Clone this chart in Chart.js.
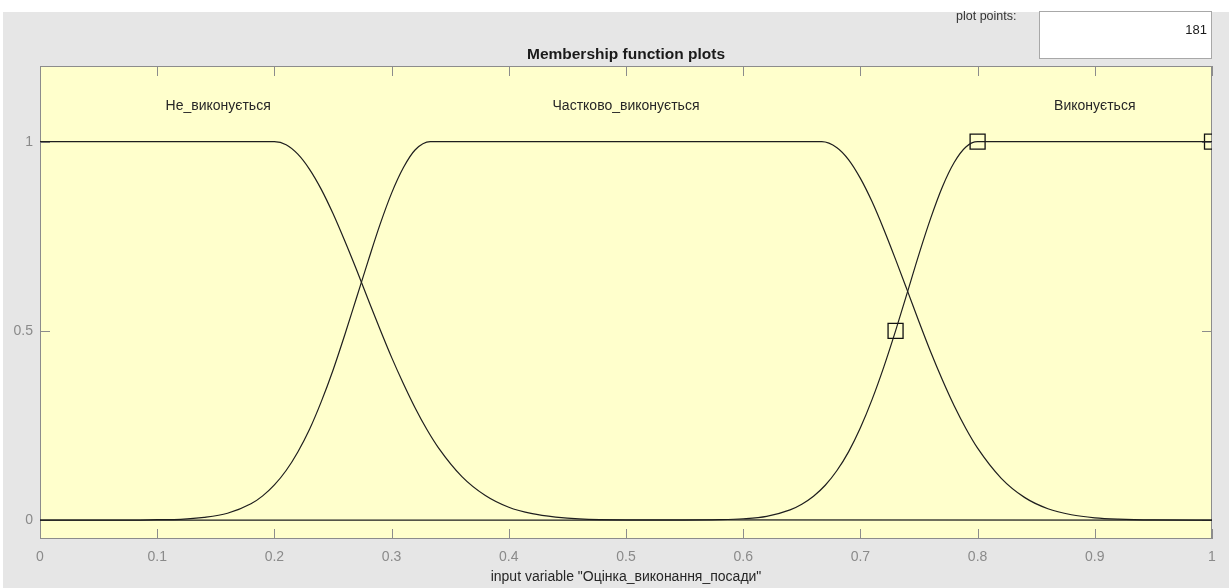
<!DOCTYPE html>
<html>
<head>
<meta charset="utf-8">
<script src="https://cdn.jsdelivr.net/npm/chart.js@4.4.1/dist/chart.umd.min.js"></script>
<style>
  html, body { margin: 0; padding: 0; background: #fff; }
  #wrap { position: relative; width: 1229px; height: 588px; }
</style>
</head>
<body>
<div id="wrap"><canvas id="mfChart" width="1229" height="588"></canvas></div>
<script>
// Осі
const xTicks = [0, 0.1, 0.2, 0.3, 0.4, 0.5, 0.6, 0.7, 0.8, 0.9, 1];
const yTicks = [0, 0.5, 1];

// Назви функцій належності
const mfNames = ['Не_виконується', 'Частково_виконується', 'Виконується'];
const mfLabelX = [0.152, 0.5, 0.9];

// Не_виконується
const neX = [0, 0.2, 0.21, 0.22, 0.23, 0.24, 0.25, 0.26, 0.27, 0.28, 0.29, 0.30, 0.31, 0.32, 0.33, 0.34, 0.36, 0.38, 0.40, 0.42, 0.44, 0.46, 0.50, 1];
const neY = [1, 1, 0.992, 0.967, 0.927, 0.874, 0.810, 0.738, 0.662, 0.583, 0.505, 0.430, 0.361, 0.297, 0.240, 0.191, 0.115, 0.065, 0.034, 0.017, 0.008, 0.003, 0.0006, 0];

// Частково_виконується
const chX = [0, 0.08, 0.10, 0.12, 0.14, 0.16, 0.18, 0.19, 0.20, 0.21, 0.22, 0.23, 0.24, 0.25, 0.26, 0.27, 0.28, 0.29, 0.30, 0.31, 0.32, 0.333,
             0.667, 0.68, 0.69, 0.70, 0.71, 0.72, 0.73, 0.74, 0.75, 0.76, 0.77, 0.78, 0.79, 0.80, 0.82, 0.84, 0.86, 0.88, 0.90, 0.92, 0.95, 1];
const chY = [0, 0, 0.001, 0.002, 0.007, 0.018, 0.043, 0.064, 0.093, 0.131, 0.180, 0.240, 0.313, 0.396, 0.489, 0.587, 0.685, 0.780, 0.864, 0.931, 0.978, 1,
             1, 0.984, 0.952, 0.903, 0.841, 0.768, 0.689, 0.607, 0.524, 0.444, 0.370, 0.302, 0.242, 0.190, 0.111, 0.060, 0.030, 0.014, 0.006, 0.0025, 0.0005, 0];

// Виконується
const vyX = [0, 0.55, 0.58, 0.60, 0.62, 0.64, 0.65, 0.66, 0.67, 0.68, 0.69, 0.70, 0.71, 0.72, 0.73, 0.74, 0.75, 0.76, 0.77, 0.78, 0.79, 0.80, 1];
const vyY = [0, 0, 0.001, 0.0035, 0.010, 0.027, 0.042, 0.063, 0.092, 0.131, 0.181, 0.244, 0.319, 0.405, 0.5, 0.601, 0.703, 0.798, 0.881, 0.945, 0.986, 1, 1];

// Маркери параметрів вибраної функції
const mkX = [0.73, 0.8, 1];
const mkY = [0.5, 1, 1];

const plotPoints = '181';

const FONT = "'Liberation Sans', Arial, sans-serif";
const LINE_COLOR = '#1e1e1e';

function toPoints(xs, ys) {
    return xs.map((x, i) => ({ x: x, y: ys[i] }));
}

function curve(xs, ys) {
    return {
        data: toPoints(xs, ys),
        borderColor: LINE_COLOR,
        borderWidth: 1.2,
        pointRadius: 0,
        fill: false,
        showLine: true,
        cubicInterpolationMode: 'monotone'
    };
}

// Фон, рамка, засічки та підписи у стилі MATLAB
const matlabFrame = {
    id: 'matlabFrame',
    beforeDraw(chart) {
        const { ctx, chartArea: a } = chart;
        ctx.save();
        ctx.fillStyle = '#ffffff';
        ctx.fillRect(0, 0, chart.width, chart.height);
        ctx.fillStyle = '#e6e6e6';
        ctx.fillRect(3, 12, chart.width - 3, chart.height - 12);
        ctx.fillStyle = '#ffffcc';
        ctx.fillRect(a.left, a.top, a.right - a.left, a.bottom - a.top);
        ctx.restore();
    },
    beforeDatasetsDraw(chart) {
        const { ctx, chartArea: a, scales } = chart;
        const tick = 10;
        ctx.save();

        // рамка
        ctx.strokeStyle = '#8c8c8c';
        ctx.lineWidth = 1;
        ctx.strokeRect(a.left + 0.5, a.top + 0.5, a.right - a.left - 1, a.bottom - a.top - 1);

        // засічки всередину
        ctx.beginPath();
        xTicks.forEach(v => {
            const px = Math.round(scales.x.getPixelForValue(v)) + 0.5;
            ctx.moveTo(px, a.top);
            ctx.lineTo(px, a.top + tick);
            ctx.moveTo(px, a.bottom);
            ctx.lineTo(px, a.bottom - tick);
        });
        yTicks.forEach(v => {
            const py = Math.round(scales.y.getPixelForValue(v)) + 0.5;
            ctx.moveTo(a.left, py);
            ctx.lineTo(a.left + tick, py);
            ctx.moveTo(a.right, py);
            ctx.lineTo(a.right - tick, py);
        });
        ctx.stroke();
        ctx.restore();
    },
    afterDraw(chart) {
        const { ctx, chartArea: a, scales } = chart;
        ctx.save();

        // заголовок
        ctx.fillStyle = '#1a1a1a';
        ctx.font = 'bold 15.5px ' + FONT;
        ctx.textAlign = 'center';
        ctx.textBaseline = 'alphabetic';
        ctx.fillText('Membership function plots', (a.left + a.right) / 2, 59);

        // назви функцій
        ctx.fillStyle = '#262626';
        ctx.font = '14px ' + FONT;
        mfNames.forEach((name, i) => {
            ctx.fillText(name, scales.x.getPixelForValue(mfLabelX[i]), 110);
        });

        // поле plot points
        ctx.fillStyle = '#ffffff';
        ctx.fillRect(1039, 12, 173, 47);
        ctx.strokeStyle = '#a8a8a8';
        ctx.strokeRect(1039.5, 11.5, 172, 47);
        ctx.fillStyle = '#333333';
        ctx.font = '12.5px ' + FONT;
        ctx.textAlign = 'left';
        ctx.fillText('plot points:', 956, 20);
        ctx.fillStyle = '#1a1a1a';
        ctx.font = '13px ' + FONT;
        ctx.textAlign = 'right';
        ctx.textBaseline = 'middle';
        ctx.fillText(plotPoints, 1207, 30);

        ctx.restore();
    }
};

const ctx = document.getElementById('mfChart').getContext('2d');

new Chart(ctx, {
    type: 'scatter',
    data: {
        datasets: [
            curve(neX, neY),
            curve(chX, chY),
            curve(vyX, vyY),
            {
                data: toPoints(mkX, mkY),
                showLine: false,
                pointStyle: 'rect',
                pointRadius: 10.6,
                pointHoverRadius: 10.6,
                pointBorderWidth: 1.3,
                pointBorderColor: '#111111',
                pointBackgroundColor: 'rgba(0,0,0,0)',
                clip: 0
            }
        ]
    },
    options: {
        responsive: false,
        animation: false,
        events: [],
        layout: { padding: { top: 66, right: 17, left: 0, bottom: 0 } },
        plugins: {
            legend: { display: false },
            tooltip: { enabled: false }
        },
        scales: {
            x: {
                type: 'linear',
                min: 0,
                max: 1,
                grid: { display: false, drawTicks: false },
                border: { display: false },
                afterBuildTicks: scale => { scale.ticks = xTicks.map(v => ({ value: v })); },
                afterFit: scale => { scale.height = 49; },
                ticks: {
                    padding: 10,
                    color: '#8a8a8a',
                    font: { family: FONT, size: 14 },
                    maxRotation: 0,
                    callback: v => String(v)
                },
                title: {
                    display: true,
                    text: 'input variable "Оцінка_виконання_посади"',
                    color: '#262626',
                    font: { family: FONT, size: 14 },
                    padding: { top: 0, bottom: 2 }
                }
            },
            y: {
                type: 'linear',
                min: -0.05,
                max: 1.2,
                grid: { display: false, drawTicks: false },
                border: { display: false },
                afterBuildTicks: scale => { scale.ticks = yTicks.map(v => ({ value: v })); },
                afterFit: scale => { scale.width = 40; },
                ticks: {
                    padding: 7,
                    color: '#8a8a8a',
                    font: { family: FONT, size: 14 },
                    callback: v => String(v)
                }
            }
        }
    },
    plugins: [matlabFrame]
});
</script>
</body>
</html>
